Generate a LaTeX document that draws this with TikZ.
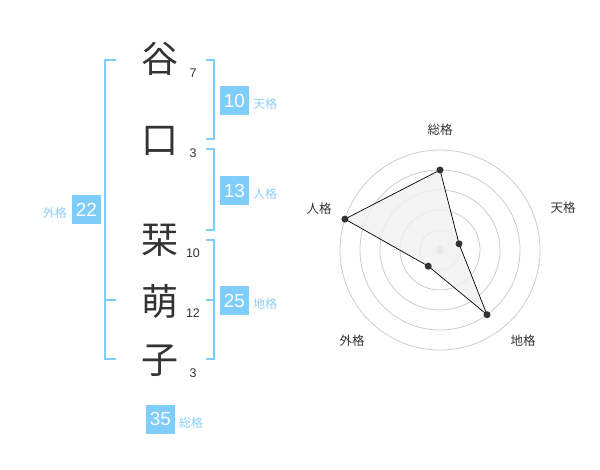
\documentclass[tikz,border=0pt]{standalone}
\usepackage{fontspec}
\setmainfont{Liberation Sans}
\newfontfamily\cjk{Noto Sans CJK JP}
\definecolor{bluebr}{HTML}{80CDF8}
\definecolor{bluebox}{HTML}{7FCDFB}
\definecolor{bluetxt}{HTML}{8CD0F5}
\definecolor{darktxt}{HTML}{333333}
\definecolor{ringgray}{HTML}{CCCCCC}
\definecolor{polyfill}{HTML}{F0F0F0}
\begin{document}
\begin{tikzpicture}[x=1pt,y=-1pt,
  kanji/.style={inner sep=0pt,font=\cjk\fontsize{37}{37}\selectfont,text=darktxt},
  strokes/.style={inner sep=0pt,font=\fontsize{12.5}{13}\selectfont,text=darktxt},
  bracket/.style={draw=bluebr,line width=2pt},
  numbox/.style={fill=bluebox,text=white,minimum width=29pt,minimum height=29pt,inner sep=0pt,font=\fontsize{19}{19}\selectfont},
  kaku/.style={inner sep=0pt,text=bluetxt,font=\cjk\fontsize{12}{12}\selectfont},
  ring/.style={draw=ringgray,line width=0.8pt},
  axislabel/.style={inner sep=0pt,text=darktxt,font=\cjk\fontsize{12.5}{12.5}\selectfont},
  dot/.style={circle,fill=darktxt,inner sep=0pt,minimum size=7pt}]
\useasboundingbox (0,0) rectangle (600,470);
% characters
\node[kanji] (k1) at (160,59) {谷};
\node[kanji] (k2) at (160,141) {口};
\node[kanji] (k3) at (160,240) {栞};
\node[kanji] (k4) at (160,301) {萌};
\node[kanji] (k5) at (160,361) {子};
\node[strokes] (s1) at (193,73) {7};
\node[strokes] (s2) at (193,153) {3};
\node[strokes] (s3) at (193,253) {10};
\node[strokes] (s4) at (193,313) {12};
\node[strokes] (s5) at (193,373) {3};
% left bracket (gaikaku)
\coordinate (lt) at (116,60);
\coordinate (lb) at (116,359);
\draw[bracket] (lt) -- (105,60) -- (105,359) -- (lb);
\draw[bracket] (105,300) -- (116,300);
% right brackets
\draw[bracket] (205.5,60) -- (214,60) -- (214,139) -- (205.5,139);
\draw[bracket] (205.5,149) -- (214,149) -- (214,230) -- (205.5,230);
\draw[bracket] (205.5,240) -- (214,240) -- (214,359) -- (205.5,359);
\draw[bracket] (205.5,300) -- (214,300);
% boxes
\node[numbox] (b1) at (234.5,100.5) {10};
\node[kaku,anchor=west] (t1) at (253,104) {天格};
\node[numbox] (b2) at (234.5,190.5) {13};
\node[kaku,anchor=west] (t2) at (253,194) {人格};
\node[numbox] (b3) at (234.5,300.5) {25};
\node[kaku,anchor=west] (t3) at (253,304) {地格};
\node[numbox] (b4) at (86.5,210) {22};
\node[kaku,anchor=east] (t4) at (67,213) {外格};
\node[numbox] (b5) at (160.5,419) {35};
\node[kaku,anchor=west] (t5) at (179,423) {総格};
% radar
\coordinate (c) at (440,250);
\foreach \r in {20,40,60,80,100} \draw[ring] (c) circle[radius=\r];
\fill[ringgray] (c) circle[radius=4];
\coordinate (p1) at ({440+80*cos(90)},{250-80*sin(90)});
\coordinate (p2) at ({440+20*cos(18)},{250-20*sin(18)});
\coordinate (p3) at ({440+80*cos(-54)},{250-80*sin(-54)});
\coordinate (p4) at ({440+20*cos(-126)},{250-20*sin(-126)});
\coordinate (p5) at ({440+100*cos(162)},{250-100*sin(162)});
\filldraw[fill=polyfill,fill opacity=0.8,draw=black,line width=0.7pt] (p1) -- (p2) -- (p3) -- (p4) -- (p5) -- cycle;
\foreach \p in {p1,p2,p3,p4,p5} \node[dot] at (\p) {};
\node[axislabel] (a1) at (440,130) {総格};
\node[axislabel] (a2) at (563,208) {天格};
\node[axislabel] (a3) at (523,341) {地格};
\node[axislabel] (a4) at (352,341) {外格};
\node[axislabel] (a5) at (319,209) {人格};
\end{tikzpicture}
\end{document}
